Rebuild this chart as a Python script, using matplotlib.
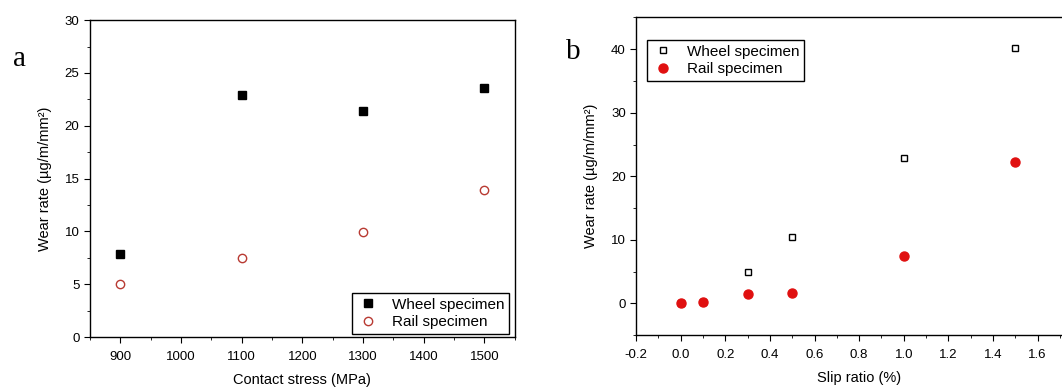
import matplotlib.pyplot as plt
from matplotlib.ticker import MultipleLocator, FixedLocator

plt.rcParams['font.family'] = ['Liberation Sans', 'DejaVu Sans']
plt.rcParams['axes.unicode_minus'] = False

# panel a
stress = [900, 1100, 1300, 1500]
wheel_a = [7.9, 22.9, 21.4, 23.6]
rail_a = [5.05, 7.5, 9.9, 13.9]

# panel b
slip = [0.0, 0.1, 0.3, 0.5, 1.0, 1.5]
wheel_b = [0.0, 0.2, 4.9, 10.4, 22.9, 40.2]
rail_b = [0.0, 0.2, 1.4, 1.7, 7.5, 22.2]
slip_ticks = [-0.2, 0.0, 0.2, 0.4, 0.6, 0.8, 1.0, 1.2, 1.4, 1.6]

ylab = "Wear rate (µg/m/mm²)"

fig = plt.figure(figsize=(10.62, 3.87), dpi=100)
ax1 = fig.add_axes([0.0847, 0.129, 0.400, 0.819])
ax2 = fig.add_axes([0.599, 0.134, 0.42, 0.821])

ax1.plot(stress, wheel_a, 's', color='black', ms=5.5, label='Wheel specimen')
ax1.plot(stress, rail_a, 'o', mfc='none', mec='#b83a32', mew=1.0, ms=6, label='Rail specimen')
ax1.set_xlim(850, 1550)
ax1.set_ylim(0, 30)
ax1.xaxis.set_major_locator(MultipleLocator(100))
ax1.xaxis.set_minor_locator(MultipleLocator(50))
ax1.yaxis.set_major_locator(MultipleLocator(5))
ax1.yaxis.set_minor_locator(MultipleLocator(2.5))
ax1.set_xlabel("Contact stress (MPa)", fontsize=10.5, labelpad=7)
ax1.set_ylabel(ylab, fontsize=10.5, labelpad=9)
ax1.legend(loc='lower right', bbox_to_anchor=(0.986, 0.01), fontsize=11, fancybox=False,
           edgecolor='black', framealpha=1, handletextpad=0.8, borderaxespad=0,
           borderpad=0.3, labelspacing=0.25, handlelength=1.5)
ax1.text(-0.18, 0.855, 'a', transform=ax1.transAxes, fontsize=21, family='Liberation Serif')

ax2.plot(slip, wheel_b, 's', mfc='none', mec='black', mew=1.0, ms=5, label='Wheel specimen')
ax2.plot(slip, rail_b, 'o', color='#e01010', ms=6.5, label='Rail specimen')
ax2.set_xlim(-0.2, 1.8)
ax2.set_ylim(-5, 45)
ax2.xaxis.set_major_locator(FixedLocator(slip_ticks))
ax2.xaxis.set_minor_locator(MultipleLocator(0.1))
ax2.yaxis.set_major_locator(MultipleLocator(10))
ax2.yaxis.set_minor_locator(MultipleLocator(5))
ax2.set_xlabel("Slip ratio (%)", fontsize=10.5, labelpad=7)
ax2.set_ylabel(ylab, fontsize=10.5, labelpad=9)
ax2.legend(loc='upper left', bbox_to_anchor=(0.025, 0.929), fontsize=11, fancybox=False,
           edgecolor='black', framealpha=1, handletextpad=0.8, borderaxespad=0,
           borderpad=0.3, labelspacing=0.25, handlelength=1.5)
ax2.text(-0.157, 0.87, 'b', transform=ax2.transAxes, fontsize=21, family='Liberation Serif')

for ax in (ax1, ax2):
    ax.tick_params(which='both', direction='out', labelsize=9.5, top=False, right=False)
    ax.tick_params(which='major', length=4)
    ax.tick_params(which='minor', length=2.5)
    ax.tick_params(axis='x', pad=6)
    for s in ax.spines.values():
        s.set_linewidth(1.0)

fig.savefig('out.png', dpi=100)
